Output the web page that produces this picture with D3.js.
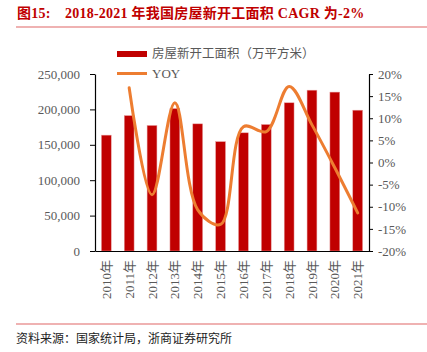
<!DOCTYPE html>
<html>
<head>
<meta charset="utf-8">
<script src="https://cdn.jsdelivr.net/npm/d3@7"></script>
<style>
  body { margin: 0; background: #fff; }
  svg { display: block; }
</style>
</head>
<body>
<div id="chart"></div>
<script>
// years, floor area of new construction (万平方米), and YOY (%)
const years = ["2010年", "2011年", "2012年", "2013年", "2014年", "2015年",
               "2016年", "2017年", "2018年", "2019年", "2020年", "2021年"];
const area = [163647, 191237, 177334, 201208, 179592, 154454,
              166928, 178654, 209342, 227154, 224433, 198895];
const yoy = [null, 16.9, -7.3, 13.5, -10.7, -14.0, 8.1, 7.0, 17.2, 8.5, -1.2, -11.4];
const leftTicks = [0, 50000, 100000, 150000, 200000, 250000];
const rightTicks = [-20, -15, -10, -5, 0, 5, 10, 15, 20];

const width = 427, height = 352;
const margin = { top: 74, right: 58, bottom: 101, left: 95 };
const serif = "'Liberation Serif', 'Times New Roman', 'Noto Sans CJK SC', serif";
const cjk = "'Noto Sans CJK SC', sans-serif";
const grey = "#595959";

const svg = d3.select("#chart").append("svg")
    .attr("width", width)
    .attr("height", height);

// title + rules
svg.append("text")
    .attr("x", 17)
    .attr("y", 18)
    .attr("fill", "#c00000")
    .attr("font-family", serif)
    .attr("font-weight", "bold")
    .attr("font-size", 14)
    .attr("letter-spacing", 0.25)
    .text("图15:　2018-2021 年我国房屋新开工面积 CAGR 为-2%");

svg.append("line")
    .attr("x1", 16).attr("x2", 427)
    .attr("y1", 27).attr("y2", 27)
    .attr("stroke", "#e06666").attr("stroke-width", 1.2);

svg.append("line")
    .attr("x1", 16).attr("x2", 427)
    .attr("y1", 324).attr("y2", 324)
    .attr("stroke", "#e06666").attr("stroke-width", 1.2);

svg.append("text")
    .attr("x", 16)
    .attr("y", 343)
    .attr("fill", "#222")
    .attr("font-family", cjk)
    .attr("font-size", 12)
    .text("资料来源：国家统计局，浙商证券研究所");

// scales
const x = d3.scaleBand()
    .domain(years)
    .range([margin.left, width - margin.right])
    .paddingInner(0.57)
    .paddingOuter(0.28);

const yL = d3.scaleLinear()
    .domain([0, 250000])
    .range([height - margin.bottom, margin.top]);

const yR = d3.scaleLinear()
    .domain([-20, 20])
    .range([height - margin.bottom, margin.top]);

// bars
svg.append("g").selectAll("rect")
    .data(area)
    .enter()
    .append("rect")
    .attr("x", (d, i) => x(years[i]))
    .attr("y", d => yL(d))
    .attr("width", x.bandwidth())
    .attr("height", d => yL(0) - yL(d))
    .attr("fill", "#c00000")
    .attr("stroke", "#e8a0a0")
    .attr("stroke-width", 0.5);

// yoy line
const pts = yoy.map((v, i) => ({ year: years[i], v: v })).filter(d => d.v !== null);
const line = d3.line()
    .x(d => x(d.year) + x.bandwidth() / 2)
    .y(d => yR(d.v))
    .curve(d3.curveCatmullRom.alpha(0.5));

svg.append("path")
    .datum(pts)
    .attr("d", line)
    .attr("fill", "none")
    .attr("stroke", "#ed7d31")
    .attr("stroke-width", 3)
    .attr("stroke-linecap", "round");

// axes
const axL = svg.append("g")
    .attr("transform", `translate(${margin.left},0)`)
    .call(d3.axisLeft(yL).tickValues(leftTicks).tickFormat(d3.format(",")).tickSize(5).tickSizeOuter(0));

const axR = svg.append("g")
    .attr("transform", `translate(${width - margin.right},0)`)
    .call(d3.axisRight(yR).tickValues(rightTicks).tickFormat(d => d + "%").tickSize(4).tickSizeOuter(0));

[axL, axR].forEach(ax => {
    ax.select(".domain").attr("stroke", "#000").attr("stroke-width", 1.2);
    ax.selectAll(".tick line").attr("stroke", "#000");
    ax.selectAll("text")
        .attr("fill", grey)
        .attr("font-family", serif)
        .attr("font-size", 13);
});
axL.selectAll("text").attr("x", -15);
axR.selectAll("text").attr("x", 9);

const axB = svg.append("g")
    .attr("transform", `translate(0,${height - margin.bottom})`)
    .call(d3.axisBottom(x).tickSize(0));

axB.select(".domain").attr("stroke", "#000").attr("stroke-width", 1.2);
axB.selectAll("text")
    .attr("transform", "rotate(-90)")
    .attr("text-anchor", "end")
    .attr("x", -9)
    .attr("y", 0)
    .attr("dy", "0.35em")
    .attr("fill", grey)
    .attr("font-family", serif)
    .attr("font-size", 13);

// legend
const legend = svg.append("g");
legend.append("rect")
    .attr("x", 117).attr("y", 51)
    .attr("width", 30).attr("height", 6)
    .attr("fill", "#c00000");
legend.append("text")
    .attr("x", 152).attr("y", 54)
    .attr("dy", "0.35em")
    .attr("fill", grey)
    .attr("font-family", cjk)
    .attr("font-size", 12.5)
    .text("房屋新开工面积（万平方米）");
legend.append("line")
    .attr("x1", 117).attr("x2", 147)
    .attr("y1", 73.5).attr("y2", 73.5)
    .attr("stroke", "#ed7d31")
    .attr("stroke-width", 3);
legend.append("text")
    .attr("x", 152).attr("y", 73.5)
    .attr("dy", "0.35em")
    .attr("fill", grey)
    .attr("font-family", serif)
    .attr("font-size", 13)
    .text("YOY");
</script>
</body>
</html>
